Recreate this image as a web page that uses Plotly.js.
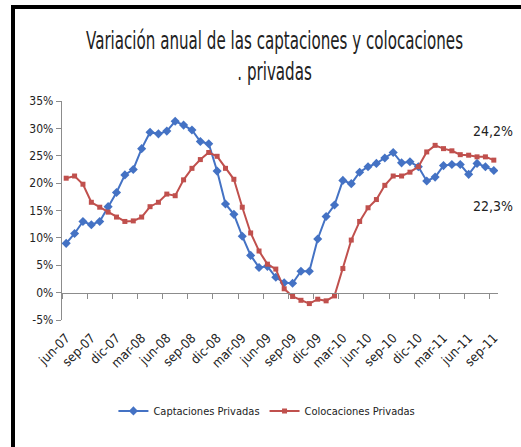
<!DOCTYPE html>
<html>
<head>
<meta charset="utf-8">
<script src="https://cdn.plot.ly/plotly-3.0.1.min.js"></script>
<style>
  html, body { margin: 0; padding: 0; background: #ffffff; }
  #frame { position: absolute; left: 11px; top: 5px; width: 600px; height: 600px;
           border-top: 4px solid #000; border-left: 4px solid #000; box-sizing: border-box; }
  #chart { position: absolute; left: 0; top: 0; width: 521px; height: 447px; }
  #chart .gtitle { transform-box: fill-box; transform-origin: 50% 50%; transform: scaleX(0.7); }
</style>
</head>
<body>
<div id="frame"></div>
<div id="chart"></div>
<script>
const months = [
  "jun-07","jul-07","ago-07","sep-07","oct-07","nov-07","dic-07","ene-08","feb-08","mar-08",
  "abr-08","may-08","jun-08","jul-08","ago-08","sep-08","oct-08","nov-08","dic-08","ene-09",
  "feb-09","mar-09","abr-09","may-09","jun-09","jul-09","ago-09","sep-09","oct-09","nov-09",
  "dic-09","ene-10","feb-10","mar-10","abr-10","may-10","jun-10","jul-10","ago-10","sep-10",
  "oct-10","nov-10","dic-10","ene-11","feb-11","mar-11","abr-11","may-11","jun-11","jul-11",
  "ago-11","sep-11"
];
const tickLabels = ["jun-07","sep-07","dic-07","mar-08","jun-08","sep-08","dic-08","mar-09","jun-09",
  "sep-09","dic-09","mar-10","jun-10","sep-10","dic-10","mar-11","jun-11","sep-11"];
const captaciones = [
  9.0, 10.8, 13.0, 12.4, 13.0, 15.7, 18.3, 21.5, 22.5, 26.3,
  29.3, 29.0, 29.5, 31.3, 30.6, 29.7, 27.6, 27.2, 22.2, 16.2,
  14.3, 10.3, 6.8, 4.6, 4.8, 2.8, 1.8, 1.7, 3.9, 3.9,
  9.8, 13.9, 16.0, 20.5, 19.9, 22.0, 23.0, 23.6, 24.6, 25.6,
  23.7, 23.9, 23.0, 20.4, 21.1, 23.2, 23.4, 23.4, 21.6, 23.6,
  23.0, 22.3
];
const colocaciones = [
  20.9, 21.3, 19.8, 16.5, 15.6, 14.7, 13.8, 13.0, 13.1, 13.8,
  15.7, 16.5, 18.0, 17.7, 20.6, 22.7, 24.3, 25.6, 24.9, 22.7,
  20.7, 15.6, 10.9, 7.6, 5.2, 4.3, 0.7, -0.7, -1.4, -2.0,
  -1.2, -1.5, -0.6, 4.4, 9.6, 13.0, 15.5, 17.0, 19.6, 21.3,
  21.3, 22.0, 23.0, 25.7, 26.9, 26.3, 25.9, 25.2, 25.1, 24.8,
  24.8, 24.2
];
const yTicks = [-5, 0, 5, 10, 15, 20, 25, 30, 35];
const yTickText = ["-5%", "0%", "5%", "10%", "15%", "20%", "25%", "30%", "35%"];
const boundaryTicks = [-0.5, 2.5, 5.5, 8.5, 11.5, 14.5, 17.5, 20.5, 23.5, 26.5, 29.5, 32.5,
  35.5, 38.5, 41.5, 44.5, 47.5, 50.5];
const endLabels = ["24,2%", "22,3%"];

const FONT = '"DejaVu Sans Condensed", "Liberation Sans", sans-serif';
const BLUE = '#4472C4';
const RED = '#C0504D';

const traces = [
  {
    x: months, y: captaciones, type: 'scatter', mode: 'lines+markers',
    name: 'Captaciones Privadas',
    line: { color: BLUE, width: 2 },
    marker: { symbol: 'diamond', size: 7, color: BLUE },
    xaxis: 'x', yaxis: 'y'
  },
  {
    x: months, y: colocaciones, type: 'scatter', mode: 'lines+markers',
    name: 'Colocaciones Privadas',
    line: { color: RED, width: 2 },
    marker: { symbol: 'square', size: 5, color: RED },
    xaxis: 'x', yaxis: 'y'
  },
  {
    x: [], y: [], type: 'scatter', mode: 'lines', xaxis: 'x2', yaxis: 'y',
    showlegend: false, hoverinfo: 'skip'
  }
];

const layout = {
  width: 521, height: 447,
  margin: { l: 62, r: 23, t: 101, b: 127 },
  paper_bgcolor: 'rgba(0,0,0,0)',
  plot_bgcolor: 'rgba(0,0,0,0)',
  font: { family: FONT, size: 12, color: '#222' },
  title: {
    text: 'Variación anual de las captaciones y colocaciones<br>. privadas',
    font: { family: FONT, size: 24, color: '#222' },
    x: 0.527, xanchor: 'center',
    y: 0.89, yanchor: 'top'
  },
  showlegend: true,
  legend: {
    orientation: 'h', x: 0.47, xanchor: 'center', y: -0.415, yanchor: 'middle',
    font: { family: FONT, size: 11, color: '#222' },
    itemwidth: 30, traceorder: 'normal'
  },
  xaxis: {
    type: 'category', range: [-0.5, 51.5],
    tickvals: tickLabels, ticktext: tickLabels,
    tickangle: -45, ticks: '', showline: false, showgrid: false, zeroline: false,
    ticklabelstandoff: 7,
    tickfont: { family: FONT, size: 13, color: '#222' }
  },
  xaxis2: {
    type: 'linear', overlaying: 'x', anchor: 'free', position: 0.125, side: 'bottom',
    range: [-0.5, 51.5], tickvals: boundaryTicks, showticklabels: false,
    ticks: 'outside', ticklen: 5, tickcolor: '#8c8c8c', tickwidth: 1,
    showline: true, linecolor: '#8c8c8c', linewidth: 1.3,
    showgrid: false, zeroline: false
  },
  yaxis: {
    range: [-5, 35], tickvals: yTicks, ticktext: yTickText,
    ticks: 'outside', ticklen: 5, tickcolor: '#8c8c8c',
    showline: true, linecolor: '#8c8c8c', linewidth: 1.3,
    showgrid: false, zeroline: false,
    tickfont: { family: FONT, size: 12, color: '#222' }
  },
  annotations: [
    { text: endLabels[0], xref: 'paper', yref: 'y', x: 1.04, y: 29.5, xanchor: 'right', yanchor: 'middle',
      showarrow: false, font: { family: FONT, size: 14, color: '#222' } },
    { text: endLabels[1], xref: 'paper', yref: 'y', x: 1.04, y: 15.8, xanchor: 'right', yanchor: 'middle',
      showarrow: false, font: { family: FONT, size: 14, color: '#222' } }
  ]
};

Plotly.newPlot('chart', traces, layout, { displayModeBar: false, staticPlot: true });
</script>
</body>
</html>
